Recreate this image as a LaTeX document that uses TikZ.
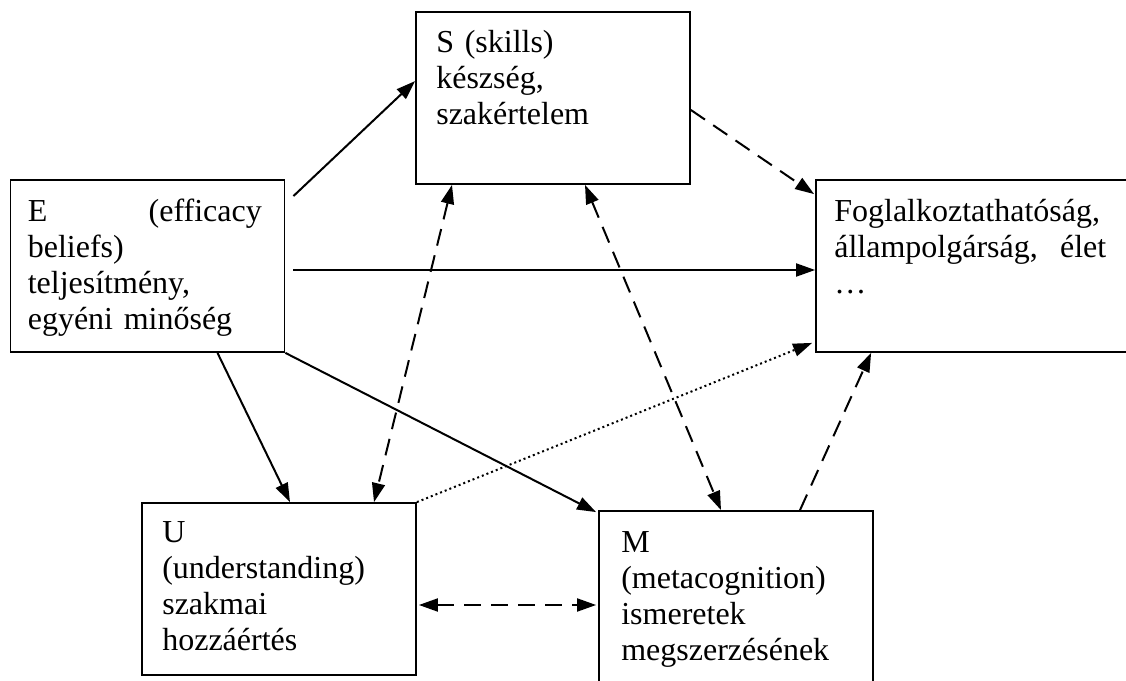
\documentclass[tikz,border=0pt]{standalone}
\usepackage{fontspec}
\setmainfont{Liberation Serif}
\usetikzlibrary{arrows.meta,calc}
\begin{document}
\begin{tikzpicture}[x=1pt,y=1pt,
  >={Triangle[length=19pt,width=13pt]},
  box/.style={draw, line width=1.8pt, minimum width=274pt, minimum height=172pt, inner sep=0pt},
  txt/.style={anchor=north west, inner sep=0pt, align=left, font=\fontsize{32}{36}\selectfont},
  link/.style={line width=2pt},
  dashline/.style={link, dash pattern=on 17pt off 10pt},
  dotline/.style={link, dash pattern=on 2pt off 3pt}
]
\clip (0,0) rectangle (1126,680);

% boxes
\node[box] (S) at (553,582) {};
\node[box] (E) at (147.5,414) {};
\node[box, minimum width=400pt] (F) at (1016,414) {};
\node[box] (U) at (279,91) {};
\node[box] (M) at (736,83) {};

% box texts
\node[txt, text width=240pt] (St) at ($(S.north west)+(21,-16)$)
  {\strut S (skills)\\készség,\\szakértelem};
\node[txt, text width=234pt] (Et) at ($(E.north west)+(18,-17)$)
  {\strut E\hfill(efficacy\\beliefs)\\teljesítmény,\\egyéni minőség};
\node[txt, text width=272pt] (Ft) at ($(F.north west)+(19,-17)$)
  {\strut Foglalkoztathatóság,\\állampolgárság,\hfill élet\\…};
\node[txt, text width=240pt] (Ut) at ($(U.north west)+(21,-15)$)
  {\strut U\\(understanding)\\szakmai\\hozzáértés};
\node[txt, text width=245pt] (Mt) at ($(M.north west)+(23,-17)$)
  {\strut M\\(metacognition)\\ismeretek\\megszerzésének};

% solid connectors
\draw[link, ->] ($(E.north east)+(8,-17)$) -- ($(S.north west)+(0,-70)$);
\draw[link, ->] ($(E.east)+(8,-4)$) -- ($(F.west)+(0,-4)$);
\draw[link, ->] ($(E.south)+(70,0)$) -- ($(U.north)+(11,0)$);
\draw[link, ->] (E.south east) -- ($(M.north west)+(-2,-2)$);

% dashed connectors
\draw[dashline, ->] ($(S.east)+(0,-12)$) -- ($(F.north west)+(-1,-15)$);
\draw[dashline, <->] ($(S.south)+(-101,0)$) -- ($(U.north)+(95,0)$);
\draw[dashline, <->] ($(S.south)+(32,0)$) -- ($(M.north)+(-15,0)$);
\draw[dashline, ->] ($(M.north)+(64,0)$) -- ($(F.south west)+(56,0)$);
\draw[dashline, <->] ($(U.east)+(2,-16)$) -- ($(M.west)+(-2,-8)$);

% dotted connector
\draw[dotline, ->] (U.north east) -- ($(F.south west)+(-3,10)$);
\end{tikzpicture}
\end{document}
